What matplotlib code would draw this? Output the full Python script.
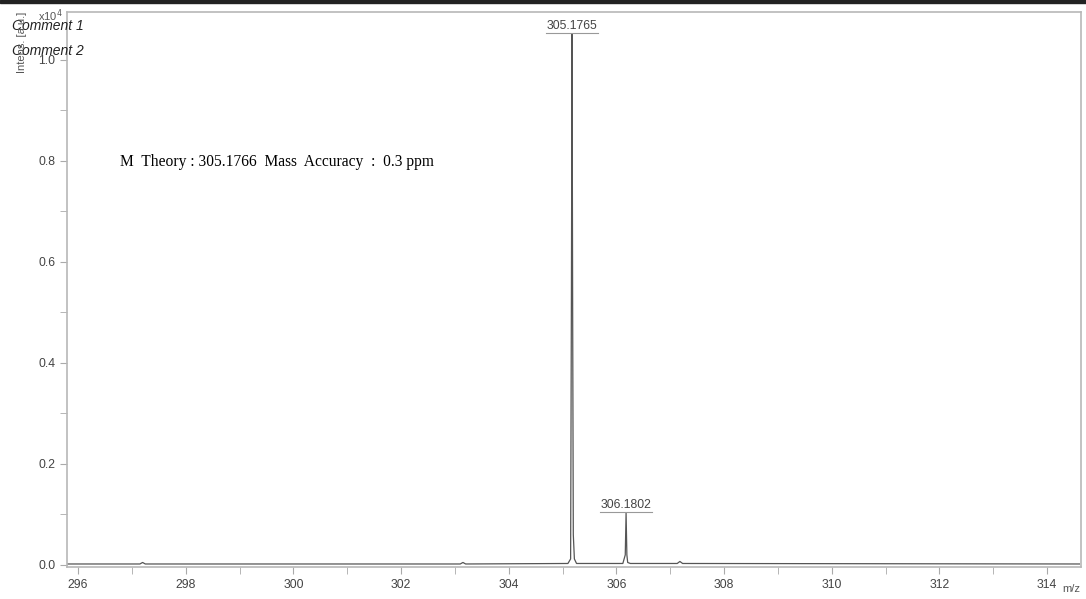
import matplotlib
matplotlib.use('Agg')
import matplotlib.pyplot as plt
import matplotlib.ticker as ticker
from matplotlib.patches import Rectangle

# profile points (m/z, intensity x10^4)
mz = [295.80, 297.15, 297.20, 297.25, 301.00, 303.10, 303.15, 303.20,
      305.10, 305.150, 305.165, 305.1765, 305.188, 305.200, 305.220, 305.26,
      306.12, 306.165, 306.1802, 306.195, 306.21, 306.26,
      307.13, 307.18, 307.23, 314.60]
intensity = [0.002, 0.002, 0.005, 0.002, 0.002, 0.002, 0.005, 0.002,
             0.003, 0.012, 0.54, 1.052, 0.50, 0.06, 0.012, 0.003,
             0.003, 0.02, 0.103, 0.02, 0.005, 0.003,
             0.003, 0.007, 0.003, 0.002]

peak_labels = ['305.1765', '306.1802']
peak_mz = [305.1765, 306.1802]
peak_top = [1.052, 0.103]

x_ticks = [296, 298, 300, 302, 304, 306, 308, 310, 312, 314]
y_ticks = [0.0, 0.2, 0.4, 0.6, 0.8, 1.0]

fig = plt.figure(figsize=(10.86, 5.99), dpi=100)
fig.patch.set_facecolor('white')
ax = fig.add_axes([0.0617, 0.0534, 0.9337, 0.9266])

ax.plot(mz, intensity, color='#555555', linewidth=0.9)

ax.set_xlim(295.796, 314.63)
ax.set_ylim(-0.004, 1.095)
ax.set_xticks(x_ticks)
ax.xaxis.set_minor_locator(ticker.MultipleLocator(1))
ax.set_yticks(y_ticks)
ax.yaxis.set_minor_locator(ticker.MultipleLocator(0.1))
ax.yaxis.set_major_formatter(ticker.FormatStrFormatter('%.1f'))

for side in ['top', 'right', 'left', 'bottom']:
    ax.spines[side].set_color('#b8b8b8')
    ax.spines[side].set_linewidth(1.2)
ax.tick_params(which='both', colors='#aaaaaa', labelcolor='#444444',
               labelsize=8.8, direction='out')
ax.tick_params(which='major', length=5)
ax.tick_params(which='minor', length=5)
for lab in ax.get_xticklabels() + ax.get_yticklabels():
    lab.set_family('Liberation Sans')

# peak labels with underline
for lbl, x, y in zip(peak_labels, peak_mz, peak_top):
    ax.annotate(lbl, (x, y), xytext=(0, 1.5), textcoords='offset points',
                ha='center', va='bottom', fontsize=8.8, color='#444444',
                family='Liberation Sans')
    ax.plot([x - 0.49, x + 0.49], [y + 0.002, y + 0.002], color='#999999', linewidth=0.8)

ax.text(0.052, 0.73, 'M  Theory : 305.1766  Mass  Accuracy  :  0.3 ppm',
        transform=ax.transAxes, fontsize=11.2, family='Liberation Serif',
        color='black', va='center')

# header texts
fig.text(0.011, 0.957, 'Comment 1', fontsize=10, style='italic',
         family='Liberation Sans', color='#222222', va='center')
fig.text(0.011, 0.915, 'Comment 2', fontsize=10, style='italic',
         family='Liberation Sans', color='#222222', va='center')
fig.text(0.020, 0.93, 'Intens. [a.u.]', rotation=90, fontsize=8,
         family='Liberation Sans', color='#555555', ha='center', va='center')
fig.text(0.035, 0.974, r'x10$^4$', fontsize=8, family='Liberation Sans',
         color='#555555', va='center')
fig.text(0.986, 0.016, 'm/z', fontsize=8, family='Liberation Sans',
         color='#555555', ha='center', va='center')

# dark strip along the top edge
fig.patches.append(Rectangle((0, 0.995), 1, 0.005, transform=fig.transFigure,
                             color='#222222', zorder=10))

fig.savefig('out.png', dpi=100, facecolor='white')
plt.close()
